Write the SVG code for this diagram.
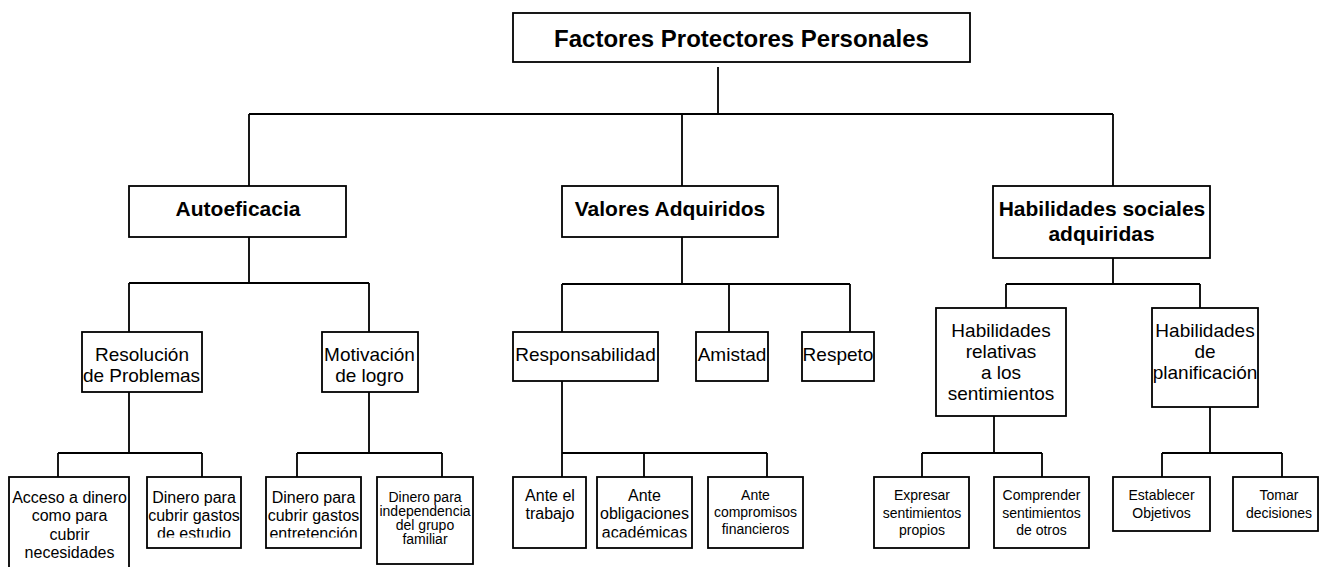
<svg xmlns="http://www.w3.org/2000/svg" width="1321" height="567" viewBox="0 0 1321 567">
<style>
.b{fill:#fff;stroke:#000;stroke-width:1.8}
.c{fill:none;stroke:#000;stroke-width:1.8}
text{font-family:"Liberation Sans",Arial,sans-serif;fill:#000;text-anchor:middle}
.t1{font-size:24px;font-weight:bold}
.t2{font-size:21px;font-weight:bold}
.t3{font-size:19px}
.t4{font-size:16px}
.t5{font-size:14px}
</style>
<defs>
<clipPath id="clipA"><rect x="147" y="477" width="94" height="60.5"/></clipPath>
<clipPath id="clipB"><rect x="266" y="477" width="95" height="60.5"/></clipPath>
<clipPath id="clipC"><rect x="597" y="477" width="95" height="60.5"/></clipPath>
</defs>
<g id="connectors">
<path class="c" d="M718,67V114M249,114H1113M249,114V186M682,114V186M1113,114V186"/>
<path class="c" d="M249,237V283M129,283H369M129,283V332M369,283V332"/>
<path class="c" d="M682,237V284M562,284H850M562,284V332M729,284V332M850,284V332"/>
<path class="c" d="M1113,258V284M1006,284H1200M1006,284V308M1200,284V308"/>
<path class="c" d="M129,392V453M58,453H202M58,453V477M202,453V477"/>
<path class="c" d="M369,392V453M297,453H442M297,453V477M442,453V477"/>
<path class="c" d="M562,381V453M562,453H767M562,453V477M644,453V477M767,453V477"/>
<path class="c" d="M994,416V453M922,453H1042M922,453V477M1042,453V477"/>
<path class="c" d="M1210,407V453M1162,453H1282M1162,453V477M1282,453V477"/>
</g>
<g id="root"><rect class="b" x="513" y="13" width="457" height="49"/><text class="t1" x="741.5" y="46.5">Factores Protectores Personales</text></g>
<g id="autoeficacia"><rect class="b" x="129" y="186" width="217" height="51"/><text class="t2" x="238" y="216">Autoeficacia</text></g>
<g id="valores"><rect class="b" x="562" y="186" width="216" height="51"/><text class="t2" x="670" y="216">Valores Adquiridos</text></g>
<g id="habilidades-sociales"><rect class="b" x="993" y="186" width="217" height="72"/><text class="t2" x="1102" y="216">Habilidades sociales</text><text class="t2" x="1101.5" y="241">adquiridas</text></g>
<g id="resolucion"><rect class="b" x="82" y="332" width="120" height="60"/><text class="t3" x="142" y="360.5">Resolución</text><text class="t3" x="141.5" y="381.5">de Problemas</text></g>
<g id="motivacion"><rect class="b" x="322" y="332" width="96" height="60"/><text class="t3" x="369.5" y="360.5">Motivación</text><text class="t3" x="369.5" y="381.5">de logro</text></g>
<g id="responsabilidad"><rect class="b" x="513" y="332" width="145" height="49"/><text class="t3" x="585.5" y="360.5">Responsabilidad</text></g>
<g id="amistad"><rect class="b" x="696" y="332" width="72" height="49"/><text class="t3" x="732" y="360.5">Amistad</text></g>
<g id="respeto"><rect class="b" x="802" y="332" width="72" height="49"/><text class="t3" x="838" y="360.5">Respeto</text></g>
<g id="hab-sentimientos"><rect class="b" x="936" y="308" width="130" height="108"/><text class="t3" x="1001" y="336.5">Habilidades</text><text class="t3" x="1001" y="357.5">relativas</text><text class="t3" x="1001" y="378.5">a los</text><text class="t3" x="1001" y="399.5">sentimientos</text></g>
<g id="hab-planificacion"><rect class="b" x="1152" y="308" width="106" height="99"/><text class="t3" x="1205" y="336.5">Habilidades</text><text class="t3" x="1205" y="357.5">de</text><text class="t3" x="1205" y="378.5">planificación</text></g>
<g id="acceso"><rect class="b" x="9" y="477" width="120" height="100"/><text class="t4" x="69.5" y="502.5">Acceso a dinero</text><text class="t4" x="69.5" y="521">como para</text><text class="t4" x="69.5" y="539.5">cubrir</text><text class="t4" x="69.5" y="558">necesidades</text></g>
<g id="estudio"><rect class="b" x="147" y="477" width="94" height="71"/><g clip-path="url(#clipA)"><text class="t4" x="194" y="502.5">Dinero para</text><text class="t4" x="194" y="520.5">cubrir gastos</text><text class="t4" x="194" y="538.5">de estudio</text></g></g>
<g id="entretencion"><rect class="b" x="266" y="477" width="95" height="71"/><g clip-path="url(#clipB)"><text class="t4" x="313.5" y="502.5">Dinero para</text><text class="t4" x="313.5" y="520.5">cubrir gastos</text><text class="t4" x="313.5" y="538.5">entretención</text></g></g>
<g id="independencia"><rect class="b" x="377" y="477" width="96" height="87"/><text class="t5" x="425" y="501.5">Dinero para</text><text class="t5" x="425" y="515.5">independencia</text><text class="t5" x="425" y="529.5">del grupo</text><text class="t5" x="425" y="543.5">familiar</text></g>
<g id="trabajo"><rect class="b" x="513" y="477" width="73" height="71"/><text class="t4" x="550" y="501">Ante el</text><text class="t4" x="550" y="519">trabajo</text></g>
<g id="academicas"><rect class="b" x="597" y="477" width="95" height="71"/><g clip-path="url(#clipC)"><text class="t4" x="644.5" y="501">Ante</text><text class="t4" x="644.5" y="519">obligaciones</text><text class="t4" x="644.5" y="538">académicas</text></g></g>
<g id="financieros"><rect class="b" x="708" y="477" width="95" height="71"/><text class="t5" x="755.5" y="500">Ante</text><text class="t5" x="755.5" y="517">compromisos</text><text class="t5" x="755.5" y="534">financieros</text></g>
<g id="expresar"><rect class="b" x="874" y="477" width="95" height="71"/><text class="t5" x="922" y="500">Expresar</text><text class="t5" x="922" y="517.5">sentimientos</text><text class="t5" x="922" y="535">propios</text></g>
<g id="comprender"><rect class="b" x="994" y="477" width="95" height="71"/><text class="t5" x="1041.5" y="500">Comprender</text><text class="t5" x="1041.5" y="517.5">sentimientos</text><text class="t5" x="1041.5" y="535">de otros</text></g>
<g id="establecer"><rect class="b" x="1113" y="477" width="97" height="54"/><text class="t5" x="1161.5" y="500">Establecer</text><text class="t5" x="1161.5" y="517.5">Objetivos</text></g>
<g id="tomar"><rect class="b" x="1233" y="477" width="85" height="54"/><text class="t5" x="1279" y="500">Tomar</text><text class="t5" x="1279" y="517.5">decisiones</text></g>
</svg>
